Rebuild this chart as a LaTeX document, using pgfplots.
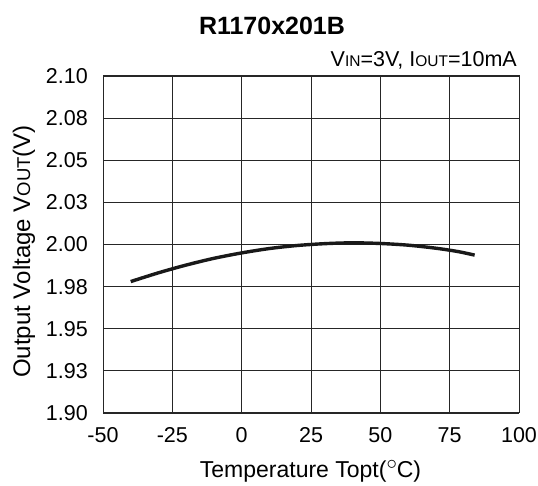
\documentclass[border=0pt]{standalone}
\usepackage{pgfplots}
\pgfplotsset{compat=1.18}
\usepackage{fontspec}
\setmainfont{Liberation Sans}
\begin{document}
\begin{tikzpicture}[x=1pt,y=1pt]
\path[use as bounding box] (0,0) rectangle (538,486);
\begin{axis}[
  at={(103pt,73pt)}, anchor=south west,
  width=416pt, height=337pt, scale only axis,
  xmin=-50, xmax=100, ymin=1.90, ymax=2.10,
  xtick={-50,-25,0,25,50,75,100},
  ytick={1.900,1.925,1.950,1.975,2.000,2.025,2.050,2.075,2.100},
  yticklabels={1.90,1.93,1.95,1.98,2.00,2.03,2.05,2.08,2.10},
  grid=major,
  major grid style={black!85, line width=0.9pt},
  axis line style={black!85, line width=1pt},
  tick style={draw=none},
  /pgf/number format/assume math mode=true,
  xticklabel style={font=\fontsize{21.5}{24}\selectfont, anchor=base, inner sep=0pt, yshift=-30pt},
  yticklabel style={font=\fontsize{21.5}{24}\selectfont, anchor=east, inner sep=0pt, xshift=-15pt},
]
\addplot[black!90, line width=3.4pt, smooth] coordinates {
(-40,1.9780) (-30,1.9832) (-20,1.9878) (-10,1.9918) (0,1.9950)
(10,1.9976) (20,1.9994) (30,2.0005) (40,2.0010) (50,2.0006)
(60,1.9996) (70,1.9978) (78,1.9958) (84,1.9937)
};
\end{axis}
\node[anchor=base, inner sep=0pt, font=\fontsize{25}{28}\selectfont\bfseries] at (272,451.5) {R1170x201B};
\node[anchor=base east, inner sep=0pt, font=\fontsize{21.5}{24}\selectfont] at (517,419) {V{\fontsize{15.5}{16}\selectfont IN}=3V, I{\fontsize{15.5}{16}\selectfont OUT}=10mA};
\node[anchor=base, inner sep=0pt, font=\fontsize{23}{26}\selectfont] at (310.5,8) {Temperature Topt(\raisebox{8pt}{\fontsize{20}{20}\selectfont$\circ$}C)};
\node[rotate=90, anchor=center, inner sep=0pt, font=\fontsize{24}{28}\selectfont] at (24,234.5) {Output Voltage V{\fontsize{18.5}{20}\selectfont OUT}(V)};
\end{tikzpicture}
\end{document}
